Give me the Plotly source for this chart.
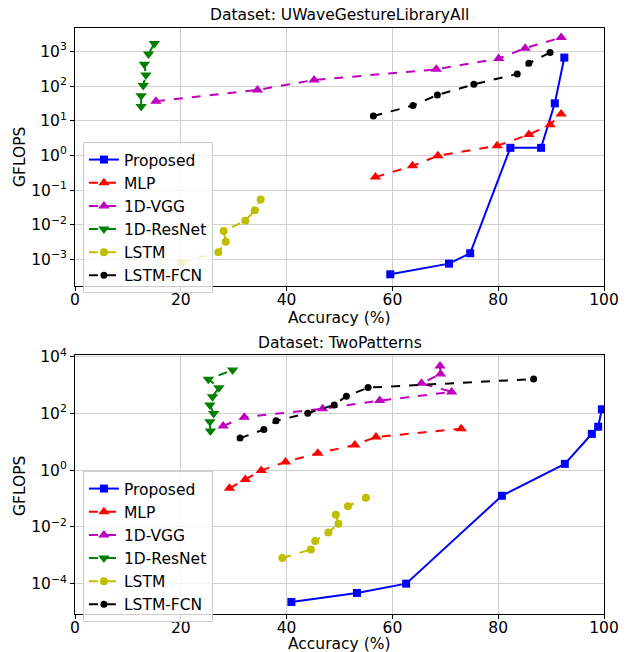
import plotly.graph_objects as go

# ---------------- data: UWaveGestureLibraryAll ----------------
u_prop_x = [59.6, 70.7, 74.7, 82.3, 88.1, 90.7, 92.5]
u_prop_y = [3.7e-4, 7.5e-4, 1.5e-3, 1.66, 1.66, 32, 670]
u_mlp_x = [56.8, 63.8, 68.6, 79.8, 85.8, 89.8, 91.9]
u_mlp_y = [0.237, 0.50, 0.98, 1.9, 4.0, 7.7, 15.7]
u_vgg_x = [15.3, 34.5, 45.2, 68.3, 80.1, 85.1, 91.9]
u_vgg_y = [37, 78, 151, 306, 628, 1250, 2540]
u_res_x = [12.5, 12.5, 12.9, 13.4, 13.1, 13.9, 15.0]
u_res_y = [26, 53, 105, 210, 430, 850, 1700]
u_lstm_x = [20.0, 27.1, 28.5, 28.1, 32.2, 34.0, 35.1]
u_lstm_y = [8e-4, 1.6e-3, 3.2e-3, 6.6e-3, 0.013, 0.026, 0.053]
u_fcn_x = [56.4, 63.9, 68.5, 75.4, 83.6, 85.8, 89.8]
u_fcn_y = [13.8, 27.6, 56, 113, 226, 459, 935]

# ---------------- data: TwoPatterns ----------------
t_prop_x = [40.9, 53.3, 62.6, 80.7, 92.6, 97.7, 98.9, 99.6]
t_prop_y = [2.26e-5, 4.7e-5, 1.0e-4, 0.125, 1.67, 19, 34, 140]
t_mlp_x = [29.2, 32.2, 35.2, 39.8, 45.9, 52.9, 56.9, 73.0]
t_mlp_y = [0.23, 0.47, 0.98, 1.95, 3.95, 7.7, 14.8, 29]
t_vgg_x = [28.0, 32.0, 46.8, 57.6, 71.2, 65.5, 69.1, 69.0]
t_vgg_y = [36, 74, 146, 283, 575, 1150, 2450, 4700]
t_res_x = [25.6, 25.5, 26.2, 25.5, 26.0, 27.2, 25.2, 29.8]
t_res_y = [24, 51, 100, 200, 390, 810, 1620, 3390]
t_lstm_x = [39.2, 44.6, 45.4, 47.9, 49.8, 49.3, 51.6, 55.0]
t_lstm_y = [8e-4, 1.6e-3, 3.2e-3, 6.3e-3, 0.013, 0.027, 0.054, 0.106]
t_fcn_x = [31.2, 35.7, 38.0, 44.0, 49.0, 51.3, 55.4, 86.7]
t_fcn_y = [13.5, 27, 55, 102, 200, 407, 813, 1630]

names = ["Proposed", "MLP", "1D-VGG", "1D-ResNet", "LSTM", "LSTM-FCN"]
colors = ["#0000ff", "#ff0000", "#bf00bf", "#008000", "#bfbf00", "#000000"]
symbols = ["square", "triangle-up", "triangle-up", "triangle-down", "circle", "circle"]
msizes = [8, 10, 10, 10, 8, 7]
dashes = ["solid", "dash", "dash", "dash", "dash", "dash"]

top_sets = [(u_prop_x, u_prop_y), (u_mlp_x, u_mlp_y), (u_vgg_x, u_vgg_y),
            (u_res_x, u_res_y), (u_lstm_x, u_lstm_y), (u_fcn_x, u_fcn_y)]
bot_sets = [(t_prop_x, t_prop_y), (t_mlp_x, t_mlp_y), (t_vgg_x, t_vgg_y),
            (t_res_x, t_res_y), (t_lstm_x, t_lstm_y), (t_fcn_x, t_fcn_y)]

fig = go.Figure()
for i, (xs, ys) in enumerate(top_sets):
    fig.add_trace(go.Scatter(x=xs, y=ys, mode="lines+markers", name=names[i],
                             line=dict(color=colors[i], width=2, dash=dashes[i]),
                             marker=dict(symbol=symbols[i], size=msizes[i], color=colors[i]),
                             xaxis="x", yaxis="y", legend="legend"))
for i, (xs, ys) in enumerate(bot_sets):
    fig.add_trace(go.Scatter(x=xs, y=ys, mode="lines+markers", name=names[i],
                             line=dict(color=colors[i], width=2, dash=dashes[i]),
                             marker=dict(symbol=symbols[i], size=msizes[i], color=colors[i]),
                             xaxis="x2", yaxis="y2", legend="legend2"))

def sup(e):
    s = str(e).replace("-", "\u2212")
    return "10<sup>%s</sup>" % s

font = "DejaVu Sans, Arial, sans-serif"
FS = 15.5
axis_common = dict(showline=True, linecolor="black", linewidth=1, mirror=True,
                   ticks="outside", ticklen=4, tickcolor="black", automargin=False,
                   showgrid=True, gridcolor="#cfcfcf", gridwidth=1, zeroline=False,
                   tickfont=dict(size=FS, color="black", family=font))

top_exp = [-3, -2, -1, 0, 1, 2, 3]
bot_exp = [-4, -2, 0, 2, 4]

legend_common = dict(bgcolor="rgba(255,255,255,0.8)", bordercolor="#cccccc", borderwidth=1,
                     font=dict(size=FS, color="black", family=font),
                     xanchor="left", yanchor="top", tracegroupgap=0)

# plot area in pixels: left 75, right 604, top 28, bottom 614 (height 586)
def py(p):  # pixel y -> paper y
    return (614 - p) / 586.0

def px(p):  # pixel x -> paper x
    return (p - 75) / 529.0

txt = dict(color="black", family=font, size=FS)
annotations = [
    dict(text="Dataset: UWaveGestureLibraryAll", x=0.5, y=py(15)),
    dict(text="Dataset: TwoPatterns", x=0.5, y=py(343)),
    dict(text="Accuracy (%)", x=0.5, y=py(318)),
    dict(text="Accuracy (%)", x=0.5, y=py(644)),
    dict(text="GFLOPS", x=px(20), y=py(157), textangle=-90),
    dict(text="GFLOPS", x=px(20), y=py(486), textangle=-90),
]
for a in annotations:
    a.update(xref="paper", yref="paper", xanchor="center", yanchor="middle",
             showarrow=False, font=txt)

xticks = [0, 20, 40, 60, 80, 100]
fig.update_layout(
    width=628, height=652,
    margin=dict(l=75, r=24, t=28, b=38),
    paper_bgcolor="white", plot_bgcolor="white",
    font=dict(family=font, color="black"),
    xaxis=dict(domain=[0, 1], anchor="y", range=[0, 100], tickvals=xticks,
               ticklabelstandoff=-5, **axis_common),
    yaxis=dict(domain=[py(286), 1.0], anchor="x", type="log", range=[-3.77, 3.68],
               tickvals=[10.0 ** e for e in top_exp], ticktext=[sup(e) for e in top_exp],
               **axis_common),
    xaxis2=dict(domain=[0, 1], anchor="y2", range=[0, 100], tickvals=xticks,
                ticklabelstandoff=-5, **axis_common),
    yaxis2=dict(domain=[0.0, py(355)], anchor="x2", type="log", range=[-5.07, 4.06],
                tickvals=[10.0 ** e for e in bot_exp], ticktext=[sup(e) for e in bot_exp],
                **axis_common),
    legend=dict(x=0.015, y=py(142), **legend_common),
    legend2=dict(x=0.015, y=py(471), **legend_common),
    annotations=annotations,
)

fig.write_html("out.html")
